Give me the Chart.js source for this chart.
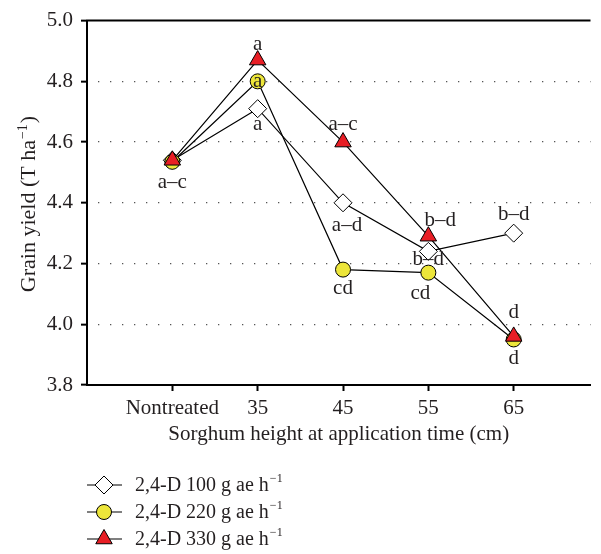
<!DOCTYPE html>
<html>
<head>
<meta charset="utf-8">
<script src="https://cdn.jsdelivr.net/npm/chart.js@4"></script>
<style>
  html, body { margin: 0; padding: 0; background: #fff; }
</style>
</head>
<body>
<canvas id="yieldChart" width="601" height="554"></canvas>
<script>
// data
const heightLabels = ['Nontreated', '35', '45', '55', '65'];
const yield100 = [4.54, 4.71, 4.40, 4.24, 4.30];
const yield220 = [4.535, 4.80, 4.18, 4.17, 3.95];
const yield330 = [4.54, 4.87, 4.60, 4.29, 3.96];
const letters100 = ['', 'a', 'a–d', 'b–d', 'b–d'];
const letters220 = ['a–c', 'a', 'cd', 'cd', 'd'];
const letters330 = ['', 'a', 'a–c', 'b–d', 'd'];
const seriesNames = ['2,4-D 100 g ae h', '2,4-D 220 g ae h', '2,4-D 330 g ae h'];

// where each letter sits relative to its point (pixels)
const offs100 = [[0, 0], [0, 16], [4, 23], [0, 8], [0, -19]];
const offs220 = [[0, 21], [0, 0], [0, 19], [-8, 21], [0, 19]];
const offs330 = [[0, 0], [0, -16], [0, -18], [12, -16], [0, -24]];

const serif = '"Liberation Serif", "Times New Roman", serif';
const ink = '#231f20';

const toPoints = arr => arr.map((v, i) => ({ x: i + 1, y: v }));

const chartCanvas = document.getElementById('yieldChart');

// draws text followed by a raised "−1"
function withSup(ctx, main, x, y, size) {
  ctx.font = size + 'px ' + serif;
  ctx.fillText(main, x, y);
  const w = ctx.measureText(main).width;
  ctx.font = Math.round(size * 0.62) + 'px ' + serif;
  ctx.fillText('−1', x + w + 1, y - size * 0.38);
}
function supWidth(ctx, main, size) {
  ctx.font = size + 'px ' + serif;
  const w = ctx.measureText(main).width;
  ctx.font = Math.round(size * 0.62) + 'px ' + serif;
  return w + 1 + ctx.measureText('−1').width;
}

const extras = {
  id: 'extras',
  afterDatasetsDraw(chart) {
    const ctx = chart.ctx;
    const xs = chart.scales.x, ys = chart.scales.y;
    const area = chart.chartArea;
    ctx.save();
    // top frame line
    ctx.strokeStyle = '#000';
    ctx.lineWidth = 2;
    ctx.beginPath();
    ctx.moveTo(area.left - 1, area.top);
    ctx.lineTo(area.right, area.top);
    ctx.stroke();

    // significance letters
    ctx.fillStyle = ink;
    ctx.font = '21px ' + serif;
    ctx.textAlign = 'center';
    ctx.textBaseline = 'middle';
    const sets = [[yield100, letters100, offs100], [yield220, letters220, offs220], [yield330, letters330, offs330]];
    sets.forEach(([vals, lets, offs]) => {
      vals.forEach((v, i) => {
        if (!lets[i]) return;
        const px = xs.getPixelForValue(i + 1) + offs[i][0];
        const py = ys.getPixelForValue(v) + offs[i][1];
        ctx.fillText(lets[i], px, py);
      });
    });

    // axis titles
    ctx.textBaseline = 'alphabetic';
    ctx.font = '21px ' + serif;
    ctx.textAlign = 'center';
    ctx.fillText('Sorghum height at application time (cm)', (area.left + area.right) / 2, 440);
    ctx.textAlign = 'left';
    ctx.translate(35, 204);
    ctx.rotate(-Math.PI / 2);
    const w2 = supWidth(ctx, 'Grain yield (T ha', 22);
    ctx.font = '22px ' + serif;
    const tw = w2 + 1 + ctx.measureText(')').width;
    ctx.fillStyle = ink;
    withSup(ctx, 'Grain yield (T ha', -tw / 2, 0, 22);
    ctx.font = '22px ' + serif;
    ctx.fillText(')', -tw / 2 + w2 + 1, 0);
    ctx.restore();

    // legend
    ctx.save();
    const rows = [485, 512, 539];
    chart.data.datasets.forEach((ds, i) => {
      const y = rows[i];
      ctx.strokeStyle = '#000';
      ctx.lineWidth = 1.2;
      ctx.beginPath();
      ctx.moveTo(87, y);
      ctx.lineTo(122, y);
      ctx.stroke();
      ctx.fillStyle = ds.pointBackgroundColor;
      ctx.strokeStyle = '#000';
      ctx.lineWidth = 1;
      Chart.helpers.drawPoint(ctx, { pointStyle: ds.pointStyle, radius: ds.pointRadius, rotation: 0, borderWidth: 1 }, 104, y);
      ctx.fillStyle = ink;
      ctx.textBaseline = 'middle';
      ctx.textAlign = 'left';
      withSup(ctx, seriesNames[i], 135, y + 1, 20);
    });
    ctx.restore();
  }
};

const config = {
  type: 'line',
  data: {
    datasets: [
      {
        label: seriesNames[0],
        data: toPoints(yield100),
        borderColor: '#000',
        borderWidth: 1.2,
        pointStyle: 'rectRot',
        pointRadius: 9,
        pointBackgroundColor: '#ffffff',
        pointBorderColor: '#000',
        pointBorderWidth: 1,
        order: 3
      },
      {
        label: seriesNames[1],
        data: toPoints(yield220),
        borderColor: '#000',
        borderWidth: 1.2,
        pointStyle: 'circle',
        pointRadius: 7.5,
        pointBackgroundColor: '#ede63a',
        pointBorderColor: '#000',
        pointBorderWidth: 1,
        order: 2
      },
      {
        label: seriesNames[2],
        data: toPoints(yield330),
        borderColor: '#000',
        borderWidth: 1.2,
        pointStyle: 'triangle',
        pointRadius: 9.5,
        pointBackgroundColor: '#e81e25',
        pointBorderColor: '#000',
        pointBorderWidth: 1,
        order: 1
      }
    ]
  },
  options: {
    responsive: false,
    animation: false,
    events: [],
    layout: { padding: { top: 15, left: 0, right: 0, bottom: 0 } },
    plugins: {
      legend: { display: false },
      tooltip: { enabled: false }
    },
    scales: {
      x: {
        type: 'linear',
        min: 0,
        max: 5.9,
        afterFit: s => { s.height = 169; },
        afterBuildTicks: s => { s.ticks = heightLabels.map((_, i) => ({ value: i + 1 })); },
        grid: { drawOnChartArea: false, color: '#000', tickLength: 6, tickWidth: 2 },
        border: { color: '#000', width: 2 },
        ticks: {
          padding: 5,
          color: ink,
          font: { family: serif, size: 21 },
          callback: v => heightLabels[v - 1]
        }
      },
      y: {
        min: 3.8,
        max: 5.0,
        afterFit: s => { s.width = 87; },
        afterBuildTicks: s => { s.ticks = [3.8, 4.0, 4.2, 4.4, 4.6, 4.8, 5.0].map(v => ({ value: v })); },
        grid: {
          color: ctx => (ctx.tick && (ctx.tick.value <= 3.8 || ctx.tick.value >= 5.0)) ? 'rgba(0,0,0,0)' : '#555',
          lineWidth: 1.3,
          tickColor: '#000',
          tickLength: 6,
          tickWidth: 2
        },
        border: { color: '#000', width: 2, dash: [1.3, 10.7], dashOffset: -10 },
        ticks: {
          padding: 8,
          color: ink,
          font: { family: serif, size: 21 },
          callback: v => v.toFixed(1)
        }
      }
    }
  },
  plugins: [extras]
};

const myChart = new Chart(chartCanvas, config);
</script>
</body>
</html>
